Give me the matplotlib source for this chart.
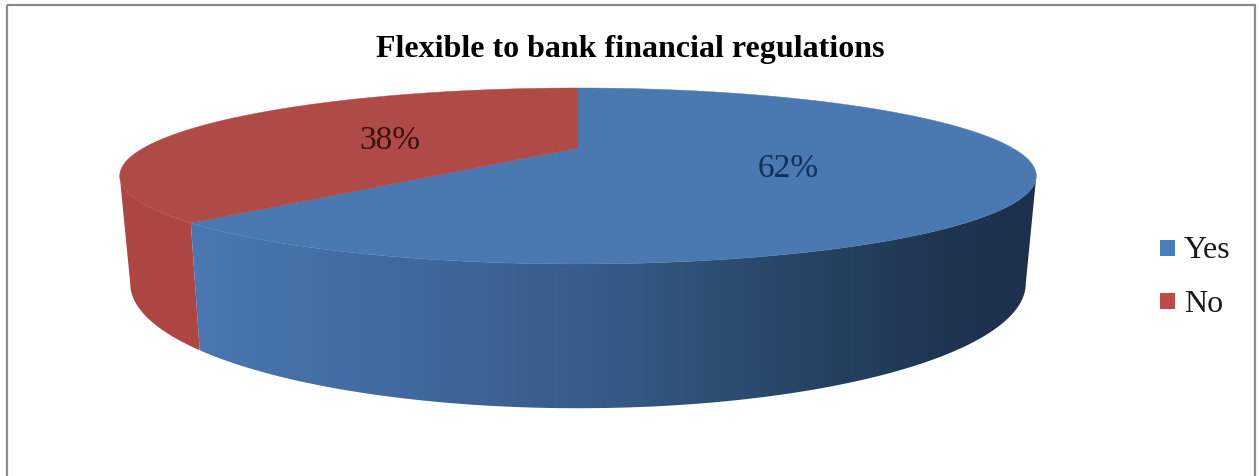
#!/usr/bin/env python3
"""Perspective 3D pie: Flexible to bank financial regulations."""

import numpy as np
import matplotlib
matplotlib.use("Agg")
import matplotlib.pyplot as plt
from matplotlib.colors import LinearSegmentedColormap
from matplotlib.patches import Polygon, Rectangle

plt.rcParams["font.family"] = ["Liberation Serif", "DejaVu Serif"]

TITLE = "Flexible to bank financial regulations"
labels = ["Yes", "No"]
values = [62, 38]
top_colors = ["#4a78b0", "#b04a46"]
legend_colors = ["#4a7ebb", "#be4b48"]

# perspective of the disc, in pixels
CX = 578
K = 0.318
TOP = dict(y0=148, a=434.5, b=79.1)
BOTTOM = dict(y0=244, a=424.5, b=112)


def project(theta, disc):
    """Angle clockwise from 12 o'clock -> pixel position on a disc edge."""
    u, v = np.sin(theta), np.cos(theta)
    w = 1 + K * v
    return CX + disc["a"] * u / w, disc["y0"] - disc["b"] * v / w


def arc(start, end, disc, n=200):
    x, y = project(np.linspace(start, end, n), disc)
    return np.column_stack([x, y])


def side_band(start, end):
    return np.vstack([arc(start, end, TOP), arc(end, start, BOTTOM)])


fig = plt.figure(figsize=(12.59, 4.76), dpi=100)
ax = fig.add_axes([0, 0, 1, 1])
ax.set_xlim(0, 1259)
ax.set_ylim(476, 0)
ax.axis("off")

ax.add_patch(Rectangle((7, 5), 1248, 490, fill=False, ec="#8a8a8a", lw=1.6))

split = 2 * np.pi * values[0] / sum(values)
silhouette = np.arccos(-K)

# red side wall, left of the split
ax.add_patch(Polygon(side_band(split, 2 * np.pi - silhouette), fc="#ad4643", ec="none"))

# blue side wall with its horizontal shading
shade = LinearSegmentedColormap.from_list(
    "side",
    [(0.0, "#4a78b2"), (0.25, "#40699f"), (0.5, "#355a85"),
     (0.72, "#274464"), (0.9, "#1e3450"), (1.0, "#1c304b")],
)
band = Polygon(side_band(silhouette, split), fc="none", ec="none")
ax.add_patch(band)
img = ax.imshow(
    np.linspace(0, 1, 256).reshape(1, -1), cmap=shade, aspect="auto",
    extent=(185, 1045, 420, 170), zorder=2,
)
img.set_clip_path(band)
ax.set_xlim(0, 1259)
ax.set_ylim(476, 0)

# top faces
centre = [[CX, TOP["y0"]]]
start = 0.0
for value, color in zip(values, top_colors):
    end = start + 2 * np.pi * value / sum(values)
    pts = np.vstack([centre, arc(start, end, TOP)])
    ax.add_patch(Polygon(pts, fc=color, ec=color, lw=0.3, zorder=3))
    start = end

ax.text(630, 49, TITLE, fontsize=23, fontweight="bold", color="black",
        ha="center", va="center", zorder=4)
ax.text(390, 141, f"{values[1]}%", fontsize=24, color="#3a0f10",
        ha="center", va="center", zorder=4)
ax.text(788, 169, f"{values[0]}%", fontsize=24, color="#10305a",
        ha="center", va="center", zorder=4)

for label, color, y in zip(labels, legend_colors, [248, 301]):
    ax.add_patch(Rectangle((1160, y - 8), 15, 16, fc=color, ec="none", zorder=4))
    ax.text(1184, y + 3, label, fontsize=23, color="#1a1a1a", ha="left",
            va="center", zorder=4)

fig.savefig("out.png", dpi=100)
